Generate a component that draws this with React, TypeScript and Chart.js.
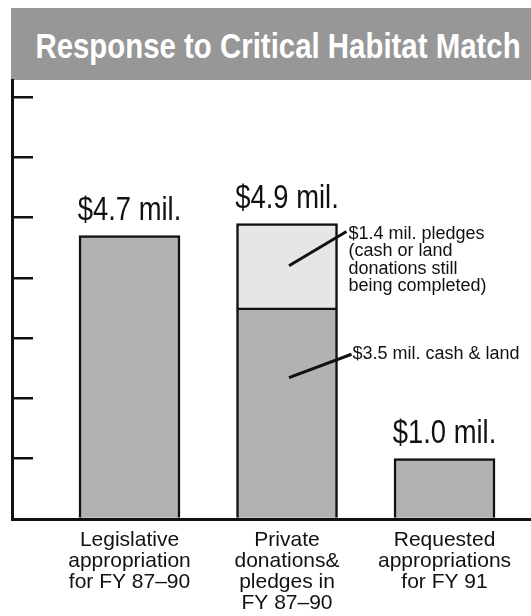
import React, { useEffect, useRef } from "react";
import { Chart, registerables } from "chart.js";

Chart.register(...registerables);

const title = "Response to Critical Habitat Match";
const categories = [
  ["Legislative", "appropriation", "for FY 87–90"],
  ["Private", "donations&", "pledges in", "FY 87–90"],
  ["Requested", "appropriations", "for FY 91"],
];
const positions = [1, 2, 3];
const cashValues = [4.7, 3.5, 1.0];
const pledgeValues = [0, 1.4, 0];
const totalLabels = ["$4.7 mil.", "$4.9 mil.", "$1.0 mil."];
const pledgeNote = ["$1.4 mil. pledges", "(cash or land", "donations still", "being completed)"];
const cashNote = ["$3.5 mil. cash & land"];
const yTicks = [0, 1, 2, 3, 4, 5, 6, 7];

const FONT = '"Liberation Sans", Arial, Helvetica, sans-serif';
const INK = "#111111";

function squeezedText(ctx: CanvasRenderingContext2D, text: string, x: number, y: number, sx: number) {
  ctx.save();
  ctx.translate(x, y);
  ctx.scale(sx, 1);
  ctx.fillText(text, 0, 0);
  ctx.restore();
}

export default function App() {
  const ref = useRef<HTMLCanvasElement>(null);

  useEffect(() => {
    document.body.style.margin = "0";
    const canvas = ref.current!;

    const labelPlugin = {
      id: "valueLabels",
      afterDatasetsDraw(chart: any) {
        const { ctx } = chart;
        const x = chart.scales.x;
        const y = chart.scales.y;
        ctx.save();
        ctx.fillStyle = INK;
        ctx.textBaseline = "alphabetic";
        ctx.textAlign = "center";
        ctx.font = `33px ${FONT}`;
        positions.forEach((p, i) => {
          const total = cashValues[i] + pledgeValues[i];
          squeezedText(ctx, totalLabels[i], x.getPixelForValue(p), y.getPixelForValue(total) - 16, 0.83);
        });

        // notes for the stacked bar
        const idx = pledgeValues.findIndex((v) => v > 0);
        const cx = x.getPixelForValue(positions[idx]);
        const bar = chart.getDatasetMeta(0).data[idx];
        const right = cx + bar.width / 2;
        const topTotal = cashValues[idx] + pledgeValues[idx];
        const textX = right + 11;
        ctx.textAlign = "left";
        ctx.font = `18px ${FONT}`;
        const firstBase = y.getPixelForValue(topTotal) + 15;
        pledgeNote.forEach((line, k) => {
          squeezedText(ctx, line, textX, firstBase + k * 17.5, 1);
        });
        const cashBase = y.getPixelForValue(cashValues[idx] * 0.757);
        cashNote.forEach((line, k) => squeezedText(ctx, line, textX + 4, cashBase + k * 17.5, 1));

        ctx.strokeStyle = INK;
        ctx.lineWidth = 3;
        ctx.lineCap = "butt";
        ctx.beginPath();
        ctx.moveTo(cx + 2, y.getPixelForValue(cashValues[idx] + pledgeValues[idx] * 0.5));
        ctx.lineTo(textX - 2, firstBase - 7);
        ctx.moveTo(cx + 2, y.getPixelForValue(cashValues[idx] * 0.67));
        ctx.lineTo(textX + 3, cashBase - 5);
        ctx.stroke();
        ctx.restore();
      },
    };

    const chart = new Chart(canvas, {
      type: "bar",
      data: {
        datasets: [
          {
            label: "cash & land",
            data: positions.map((p, i) => ({ x: p, y: cashValues[i] })),
            backgroundColor: "#b2b2b2",
            borderColor: INK,
            borderWidth: 2.5,
            borderSkipped: "start",
            barThickness: 101,
          },
          {
            label: "pledges",
            data: positions.map((p, i) => ({ x: p, y: pledgeValues[i] > 0 ? pledgeValues[i] : null })),
            backgroundColor: "#e6e6e6",
            borderColor: INK,
            borderWidth: 2.5,
            borderSkipped: "start",
            barThickness: 101,
          },
        ],
      },
      options: {
        responsive: false,
        animation: false,
        events: [],
        layout: { padding: { top: 80, left: 0, right: 0, bottom: 0 } },
        plugins: {
          legend: { display: false },
          tooltip: { enabled: false },
          title: { display: false },
        },
        scales: {
          x: {
            type: "linear",
            min: 0.254,
            max: 3.549,
            offset: false,
            bounds: "data",
            grace: 0,
            stacked: true,
            grid: { display: false, drawTicks: false, offset: false },
            border: { display: true, color: INK, width: 3 },
            afterBuildTicks: (s: any) => {
              s.ticks = positions.map((v) => ({ value: v }));
            },
            afterFit: (s: any) => {
              s.height = 97;
            },
            ticks: {
              autoSkip: false,
              maxRotation: 0,
              padding: 11,
              color: INK,
              font: { family: FONT, size: 21, lineHeight: 1.0 },
              callback: (v: any) => {
                const i = positions.indexOf(Number(v));
                return i >= 0 ? categories[i] : "";
              },
            },
          },
          y: {
            type: "linear",
            min: 0,
            max: 7.28,
            stacked: true,
            afterBuildTicks: (s: any) => {
              s.ticks = yTicks.map((v) => ({ value: v }));
            },
            afterFit: (s: any) => {
              s.width = 12;
            },
            ticks: { display: false },
            grid: {
              drawOnChartArea: false,
              drawTicks: true,
              tickLength: -21,
              color: INK,
              lineWidth: 2.5,
            },
            border: { display: true, color: INK, width: 3 },
          },
        },
      },
      plugins: [labelPlugin],
    } as any);

    return () => chart.destroy();
  }, []);

  return (
    <div style={{ position: "relative", width: 531, height: 616, background: "#ffffff" }}>
      <div
        style={{
          position: "absolute",
          left: 11,
          top: 8,
          width: 520,
          height: 72,
          background: "#979797",
          overflow: "hidden",
        }}
      >
        <span
          style={{
            position: "absolute",
            left: 266.5,
            top: 0,
            color: "#ffffff",
            fontFamily: FONT,
            fontWeight: "bold",
            fontSize: 35,
            lineHeight: "76px",
            whiteSpace: "nowrap",
            transform: "translateX(-50%) scaleX(0.84)",
            transformOrigin: "center",
          }}
        >
          {title}
        </span>
      </div>
      <canvas ref={ref} width={531} height={616} style={{ position: "absolute", left: 0, top: 0 }} />
    </div>
  );
}
